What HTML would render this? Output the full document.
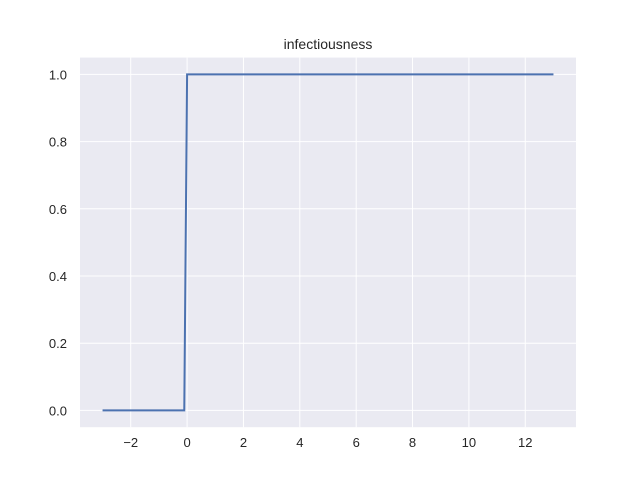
<!DOCTYPE html>
<html><head><meta charset="utf-8"><style>
body{margin:0;background:#fff;}
svg{display:block;font-family:"Liberation Sans","DejaVu Sans",sans-serif;}
</style></head><body>
<svg id="chart" width="640" height="480">
<rect width="640" height="480" fill="#fff"/>
<rect x="80" y="57.6" width="496" height="369.6" fill="#eaeaf2"/>
<g id="grid"></g>
<g id="ticks"></g>
<polyline id="line" fill="none" stroke="#4c72b0" stroke-width="2"/>
<text x="328" y="49" text-anchor="middle" font-size="14" fill="#262626">infectiousness</text>
</svg>
<script>
const xValues = [-3, -0.1, 0, 13];
const yValues = [0, 0, 1, 1];
const xTicks = [-2, 0, 2, 4, 6, 8, 10, 12];
const yTicks = [0.0, 0.2, 0.4, 0.6, 0.8, 1.0];
const L=80,R=576,T=57.6,B=427.2;
const xmin=-3.8,xmax=13.8,ymin=-0.05,ymax=1.05;
const sx=v=>L+(v-xmin)/(xmax-xmin)*(R-L);
const sy=v=>B-(v-ymin)/(ymax-ymin)*(B-T);
const ns="http://www.w3.org/2000/svg";
const grid=document.getElementById('grid'), ticks=document.getElementById('ticks');
xTicks.forEach(t=>{
  const l=document.createElementNS(ns,'line');
  l.setAttribute('x1',sx(t));l.setAttribute('x2',sx(t));l.setAttribute('y1',T);l.setAttribute('y2',B);
  l.setAttribute('stroke','#fff');l.setAttribute('stroke-width','1');
  
  
  grid.appendChild(l);
  const tx=document.createElementNS(ns,'text');
  tx.setAttribute('x',sx(t));tx.setAttribute('y',B+20);tx.setAttribute('text-anchor','middle');
  tx.setAttribute('font-size','13');tx.setAttribute('fill','#262626');
  tx.textContent=t<0?'\u2212'+Math.abs(t):String(t);
  
  
  ticks.appendChild(tx);
});
yTicks.forEach(t=>{
  const l=document.createElementNS(ns,'line');
  l.setAttribute('x1',L);l.setAttribute('x2',R);l.setAttribute('y1',sy(t));l.setAttribute('y2',sy(t));
  l.setAttribute('stroke','#fff');l.setAttribute('stroke-width','1');
  
  
  grid.appendChild(l);
  const tx=document.createElementNS(ns,'text');
  tx.setAttribute('x',L-13);tx.setAttribute('y',sy(t)+5);tx.setAttribute('text-anchor','end');
  tx.setAttribute('font-size','13');tx.setAttribute('fill','#262626');
  tx.textContent=t.toFixed(1);
  
  
  ticks.appendChild(tx);
});
document.getElementById('line').setAttribute('points',xValues.map((x,i)=>sx(x)+','+sy(yValues[i])).join(' '));
</script>
</body></html>
